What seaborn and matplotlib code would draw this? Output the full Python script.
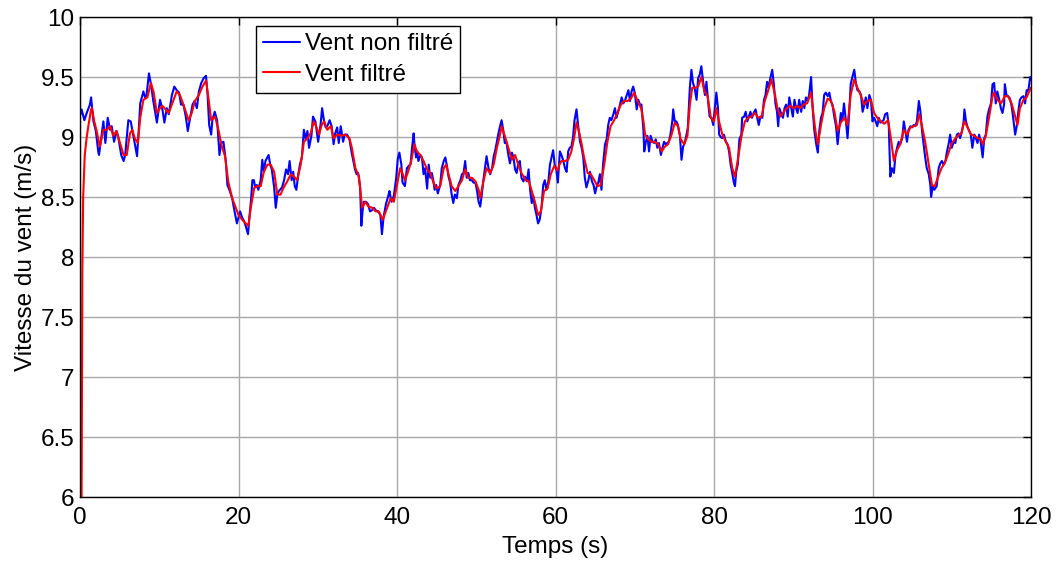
import matplotlib
matplotlib.use("Agg")
import matplotlib.pyplot as plt
import numpy as np
import pandas as pd
import seaborn as sns

# Raw (unfiltered) wind speed record: time (s) and speed (m/s)
t_brut = [
    0.0, 0.2, 0.55, 0.85, 1.25, 1.4, 1.7, 2.0, 2.3, 2.4, 2.95, 3.2, 3.5, 3.8, 4.0, 4.3, 4.6, 4.8,
    5.2, 5.5, 5.7, 6.1, 6.4, 6.7, 7.2, 7.45, 7.6, 8.0, 8.2, 8.4, 8.7, 8.95, 9.25, 9.5, 9.7, 10.1,
    10.4, 10.65, 10.95, 11.2, 11.6, 11.9, 12.2, 12.5, 12.75, 13.05, 13.35, 13.6, 13.9, 14.2, 14.45,
    14.75, 15.0, 15.3, 15.6, 15.9, 16.1, 16.3, 16.55, 16.7, 17.0, 17.3, 17.6, 17.8, 18.1, 18.4, 18.6,
    18.9, 19.2, 19.5, 19.8, 20.2, 20.45, 20.7, 20.9, 21.2, 21.4, 21.6, 21.75, 21.95, 22.1, 22.3, 22.5,
    22.8, 23.0, 23.2, 23.4, 23.8, 24.0, 24.2, 24.5, 24.7, 24.9, 25.1, 25.5, 25.75, 26.0, 26.25, 26.45,
    26.7, 26.9, 27.1, 27.3, 27.55, 27.75, 28.0, 28.25, 28.5, 28.7, 28.9, 29.2, 29.4, 29.7, 30.05,
    30.35, 30.55, 30.8, 31.0, 31.2, 31.5, 31.75, 32.0, 32.2, 32.45, 32.65, 32.9, 33.2, 33.4, 33.7,
    34.0, 34.25, 34.4, 34.7, 34.9, 35.1, 35.35, 35.5, 35.65, 35.8, 36.1, 36.35, 36.6, 36.85, 37.1,
    37.3, 37.6, 37.9, 38.1, 38.3, 38.6, 38.9, 39.05, 39.3, 39.6, 39.9, 40.1, 40.3, 40.55, 40.7, 41.0,
    41.25, 41.5, 41.7, 41.9, 42.1, 42.2, 42.4, 42.55, 42.7, 42.95, 43.15, 43.35, 43.55, 43.8, 44.0,
    44.2, 44.4, 44.6, 44.75, 44.95, 45.15, 45.45, 45.65, 45.9, 46.1, 46.3, 46.5, 46.7, 46.9, 47.1,
    47.3, 47.55, 47.75, 48.0, 48.2, 48.4, 48.6, 48.8, 49.0, 49.2, 49.45, 49.65, 49.9, 50.1, 50.3,
    50.5, 50.7, 50.9, 51.1, 51.3, 51.55, 51.75, 52.0, 52.2, 52.4, 52.6, 52.8, 53.0, 53.2, 53.4, 53.6,
    53.8, 54.05, 54.25, 54.5, 54.7, 54.9, 55.1, 55.3, 55.5, 55.7, 55.95, 56.15, 56.4, 56.6, 56.8,
    57.0, 57.2, 57.4, 57.6, 57.8, 58.0, 58.25, 58.45, 58.65, 58.85, 59.1, 59.3, 59.5, 59.7, 59.9,
    60.1, 60.3, 60.55, 60.75, 60.95, 61.2, 61.4, 61.6, 61.8, 62.0, 62.2, 62.4, 62.65, 62.85, 63.1,
    63.3, 63.5, 63.7, 63.9, 64.15, 64.35, 64.6, 64.8, 65.0, 65.2, 65.4, 65.6, 65.8, 66.0, 66.25,
    66.45, 66.65, 66.85, 67.05, 67.3, 67.5, 67.7, 67.9, 68.1, 68.35, 68.55, 68.75, 68.95, 69.2, 69.4,
    69.6, 69.8, 70.0, 70.25, 70.45, 70.65, 70.85, 71.1, 71.2, 71.4, 71.6, 71.8, 72.0, 72.25, 72.45,
    72.65, 72.85, 73.05, 73.3, 73.5, 73.7, 73.9, 74.1, 74.3, 74.5, 74.75, 74.85, 75.05, 75.25, 75.45,
    75.7, 75.9, 76.1, 76.3, 76.5, 76.7, 76.95, 77.15, 77.35, 77.55, 77.8, 78.0, 78.2, 78.4, 78.65,
    78.85, 79.05, 79.25, 79.45, 79.7, 79.9, 80.1, 80.3, 80.5, 80.65, 80.85, 81.05, 81.25, 81.5, 81.7,
    81.9, 82.1, 82.3, 82.5, 82.65, 82.8, 83.0, 83.2, 83.45, 83.55, 83.8, 84.0, 84.2, 84.4, 84.6, 84.8,
    85.0, 85.25, 85.45, 85.65, 85.85, 86.1, 86.3, 86.5, 86.7, 86.9, 87.1, 87.35, 87.55, 87.75, 87.95,
    88.1, 88.25, 88.5, 88.7, 88.9, 89.1, 89.3, 89.5, 89.75, 89.95, 90.15, 90.35, 90.55, 90.75, 91.0,
    91.2, 91.4, 91.6, 91.8, 92.0, 92.25, 92.45, 92.65, 92.9, 93.1, 93.3, 93.5, 93.7, 93.9, 94.1,
    94.35, 94.55, 94.75, 94.95, 95.2, 95.4, 95.6, 95.8, 96.0, 96.2, 96.4, 96.65, 96.85, 97.05, 97.25,
    97.5, 97.7, 97.9, 98.1, 98.35, 98.55, 98.75, 98.95, 99.15, 99.35, 99.6, 99.8, 100.0, 100.2,
    100.4, 100.6, 100.8, 101.0, 101.2, 101.4, 101.6, 101.85, 102.05, 102.25, 102.45, 102.7, 102.9,
    103.1, 103.3, 103.5, 103.75, 103.95, 104.15, 104.35, 104.55, 104.8, 105.0, 105.2, 105.4, 105.6,
    105.85, 106.05, 106.25, 106.45, 106.65, 106.85, 107.1, 107.3, 107.4, 107.6, 107.8, 108.0, 108.1,
    108.35, 108.55, 108.75, 108.95, 109.2, 109.4, 109.6, 109.8, 110.0, 110.25, 110.45, 110.65,
    110.85, 111.05, 111.3, 111.5, 111.6, 111.8, 112.0, 112.2, 112.4, 112.6, 112.85, 113.05, 113.25,
    113.45, 113.65, 113.9, 114.1, 114.3, 114.5, 114.7, 114.95, 115.15, 115.35, 115.55, 115.75, 116.0,
    116.2, 116.4, 116.6, 116.7, 116.9, 117.1, 117.35, 117.55, 117.75, 118.0, 118.2, 118.4, 118.6,
    118.8, 119.05, 119.25, 119.45, 119.65, 119.9, 120.0,
]
v_brut = [
    9.18, 9.23, 9.14, 9.20, 9.27, 9.33, 9.13, 9.05, 8.88, 8.85, 9.13, 8.95, 9.16, 9.06, 9.09, 8.96, 9.05, 9.01,
    8.85, 8.80, 8.85, 9.14, 9.13, 9.02, 8.84, 9.10, 9.28, 9.38, 9.33, 9.35, 9.53, 9.44, 9.30, 9.20, 9.12, 9.31,
    9.23, 9.12, 9.24, 9.19, 9.35, 9.42, 9.39, 9.37, 9.27, 9.27, 9.17, 9.05, 9.16, 9.27, 9.30,
    9.24, 9.38, 9.45, 9.49, 9.51, 9.35, 9.10, 9.02, 9.14, 9.21, 9.14, 8.85, 8.95, 8.96, 8.80, 8.60,
    8.55, 8.49, 8.38, 8.28, 8.38, 8.33, 8.30, 8.26, 8.19, 8.35, 8.49, 8.64, 8.64, 8.58, 8.60, 8.56,
    8.64, 8.81, 8.71, 8.80, 8.85, 8.77, 8.73, 8.58, 8.41, 8.52, 8.55, 8.58, 8.64, 8.73, 8.69, 8.80,
    8.64, 8.71, 8.59, 8.56, 8.69, 8.77, 8.83, 9.06, 8.98, 9.05, 8.91, 9.01, 9.17, 9.13, 8.96,
    9.10, 9.24, 9.13, 9.08, 9.09, 9.14, 9.09, 8.94, 9.03, 9.08, 8.95, 9.09, 8.96, 9.02, 9.02,
    8.98, 8.88, 8.83, 8.73, 8.69, 8.70, 8.58, 8.26, 8.38, 8.46, 8.46, 8.44, 8.38, 8.39, 8.41,
    8.39, 8.38, 8.35, 8.19, 8.33, 8.44, 8.51, 8.55, 8.46, 8.51, 8.66, 8.82, 8.87, 8.77, 8.62, 8.59,
    8.74, 8.76, 8.77, 8.91, 9.03, 8.94, 8.83, 8.88, 8.80, 8.85, 8.83, 8.69, 8.74, 8.57, 8.77,
    8.66, 8.70, 8.63, 8.56, 8.60, 8.53, 8.60, 8.74, 8.80, 8.83, 8.76, 8.67, 8.62, 8.52, 8.45,
    8.52, 8.49, 8.60, 8.64, 8.69, 8.70, 8.80, 8.66, 8.70, 8.64, 8.64, 8.62, 8.62, 8.55, 8.46,
    8.42, 8.52, 8.64, 8.74, 8.84, 8.74, 8.69, 8.74, 8.84, 8.89, 8.96, 9.03, 9.09, 9.14, 9.06, 8.95,
    8.96, 8.85, 8.78, 8.87, 8.83, 8.73, 8.70, 8.78, 8.80, 8.66, 8.63, 8.67, 8.63, 8.73, 8.56,
    8.45, 8.51, 8.41, 8.35, 8.28, 8.31, 8.42, 8.60, 8.64, 8.56, 8.63, 8.77, 8.83, 8.89, 8.77,
    8.73, 8.62, 8.88, 8.85, 8.81, 8.74, 8.71, 8.88, 8.91, 8.92, 8.99, 9.14, 9.23, 9.10, 8.96,
    8.91, 8.83, 8.66, 8.58, 8.64, 8.71, 8.63, 8.60, 8.53, 8.59, 8.62, 8.69, 8.56, 8.77, 8.94,
    8.98, 9.10, 9.16, 9.14, 9.19, 9.24, 9.16, 9.21, 9.26, 9.33, 9.28, 9.30, 9.34, 9.39, 9.30,
    9.38, 9.42, 9.37, 9.23, 9.31, 9.27, 9.27, 9.05, 8.88, 8.96, 9.01, 8.88, 9.01, 8.96, 8.95,
    8.98, 8.91, 8.95, 8.85, 8.91, 8.96, 8.94, 8.95, 8.96, 9.02, 9.14, 9.23, 9.13, 9.13, 9.10,
    9.01, 8.81, 8.92, 8.95, 9.01, 9.08, 9.41, 9.56, 9.45, 9.41, 9.31, 9.49, 9.52, 9.59, 9.45,
    9.35, 9.46, 9.30, 9.17, 9.16, 9.10, 9.24, 9.37, 9.24, 9.02, 9.00, 8.99, 9.02, 8.96, 8.94,
    8.88, 8.77, 8.70, 8.62, 8.59, 8.71, 8.77, 8.98, 9.02, 9.16, 9.17, 9.21, 9.13, 9.17, 9.21, 9.16,
    9.20, 9.23, 9.16, 9.10, 9.17, 9.16, 9.31, 9.35, 9.46, 9.41, 9.49, 9.56, 9.44, 9.28, 9.21,
    9.09, 9.24, 9.19, 9.16, 9.24, 9.27, 9.17, 9.33, 9.24, 9.17, 9.31, 9.24, 9.20, 9.31, 9.21,
    9.30, 9.24, 9.33, 9.30, 9.35, 9.50, 9.24, 9.06, 8.94, 8.87, 9.06, 9.16, 9.20, 9.35, 9.37,
    9.34, 9.37, 9.30, 9.27, 9.16, 9.09, 8.94, 9.07, 9.20, 9.14, 9.28, 9.13, 8.99, 9.19, 9.44,
    9.51, 9.56, 9.45, 9.39, 9.38, 9.35, 9.21, 9.26, 9.33, 9.24, 9.35, 9.31, 9.13, 9.16,
    9.13, 9.09, 9.16, 9.12, 9.13, 9.14, 9.19, 9.20, 9.10, 8.67, 8.74, 8.70, 8.85,
    8.91, 8.96, 8.94, 8.99, 9.13, 9.05, 8.96, 9.06, 9.09, 9.08, 9.10, 9.09, 9.13,
    9.30, 9.21, 9.05, 8.94, 8.83, 8.74, 8.69, 8.60, 8.50, 8.59, 8.56, 8.58, 8.59,
    8.74, 8.78, 8.80, 8.77, 8.80, 8.88, 8.94, 9.02, 8.91, 8.96, 8.95, 9.02,
    9.03, 8.99, 9.05, 9.13, 9.23, 9.13, 9.08, 9.05, 9.02, 8.91, 9.02, 8.99, 8.95,
    9.02, 8.96, 8.83, 8.99, 9.02, 9.17, 9.23, 9.28, 9.44, 9.45, 9.28, 9.38, 9.31,
    9.24, 9.20, 9.27, 9.44, 9.35, 9.34, 9.32, 9.26, 9.16, 9.02, 9.09, 9.21, 9.31,
    9.33, 9.34, 9.28, 9.39, 9.38, 9.50, 9.48,
]

# Filtered wind speed: time (s) and speed (m/s)
t_filtre = [
    0.2, 0.25, 0.3, 0.4, 0.6, 0.85, 1.05, 1.4, 1.5, 1.8, 2.1, 2.5, 2.95, 3.4, 3.8, 4.2, 4.6, 5.05,
    5.5, 5.9, 6.3, 6.6, 6.9, 7.3, 7.6, 8.0, 8.5, 8.95, 9.3, 9.7, 10.1, 10.4, 10.8, 11.2, 11.65, 12.2,
    12.6, 13.05, 13.7, 14.1, 14.5, 15.0, 15.45, 15.9, 16.2, 16.55, 17.05, 17.5, 17.9, 18.3, 18.7,
    19.2, 19.6, 20.0, 20.6, 21.25, 21.55, 22.0, 22.4, 22.8, 23.2, 23.65, 24.05, 24.5, 24.9, 25.3,
    25.7, 26.15, 26.6, 27.0, 27.4, 27.85, 28.25, 28.7, 29.1, 29.5, 29.8, 30.15, 30.5, 30.8, 31.2,
    31.65, 32.0, 32.45, 33.0, 33.5, 34.0, 34.3, 34.75, 35.2, 35.6, 36.0, 36.4, 36.9, 37.3, 37.7,
    38.2, 38.75, 39.2, 39.6, 40.0, 40.4, 40.8, 41.0, 41.4, 41.8, 42.2, 42.5, 42.95, 43.35, 43.8,
    44.2, 44.6, 45.0, 45.45, 45.9, 46.2, 46.5, 46.9, 47.35, 47.75, 48.2, 48.6, 49.0, 49.45, 49.9,
    50.3, 50.5, 50.9, 51.3, 51.75, 52.2, 52.6, 53.0, 53.2, 53.6, 54.05, 54.5, 54.9, 55.3, 55.7,
    56.25, 56.65, 57.0, 57.4, 57.8, 58.15, 58.55, 59.0, 59.4, 59.85, 60.25, 60.5, 60.75, 61.2, 61.6,
    62.0, 62.35, 62.65, 62.95, 63.3, 63.6, 64.05, 64.45, 64.9, 65.3, 65.7, 66.15, 66.55, 66.95,
    67.4, 67.8, 68.25, 68.65, 69.1, 69.5, 69.95, 70.35, 70.8, 71.1, 71.3, 71.7, 72.1, 72.55, 72.95,
    73.4, 73.8, 74.2, 74.65, 75.05, 75.45, 75.8, 76.25, 76.65, 76.95, 77.25, 77.6, 78.0, 78.4,
    78.8, 79.2, 79.6, 80.0, 80.3, 80.6, 81.05, 81.5, 81.9, 82.3, 82.65, 83.1, 83.5, 83.9, 84.3,
    84.7, 85.15, 85.6, 86.0, 86.4, 86.8, 87.25, 87.7, 88.0, 88.4, 88.8, 89.2, 89.65, 90.05, 90.5,
    90.9, 91.3, 91.75, 92.25, 92.6, 92.8, 93.1, 93.5, 93.9, 94.35, 94.75, 95.2, 95.6, 96.0, 96.45,
    96.85, 97.25, 97.7, 98.1, 98.5, 98.95, 99.35, 99.8, 100.2, 100.6, 101.05, 101.5, 101.95, 102.25,
    102.7, 103.1, 103.5, 103.95, 104.35, 104.8, 105.2, 105.6, 105.9, 106.25, 106.65, 107.1, 107.5,
    107.85, 108.25, 108.7, 109.1, 109.5, 109.95, 110.35, 110.75, 111.2, 111.6, 112.0, 112.45,
    112.85, 113.3, 113.7, 113.9, 114.3, 114.7, 115.15, 115.35, 115.75, 116.2, 116.7, 117.1, 117.55,
    118.0, 118.3, 118.6, 119.05, 119.45, 119.9, 120.0,
]
v_filtre = [
    6.00, 7.00, 7.90, 8.50, 8.85, 9.00, 9.09, 9.23, 9.24, 9.13, 9.05, 8.92, 9.06, 9.06, 9.09, 9.01, 9.05, 8.95,
    8.85, 8.85, 9.03, 9.06, 8.99, 8.95, 9.16, 9.31, 9.33, 9.45, 9.37, 9.20, 9.24, 9.26, 9.23, 9.20, 9.28, 9.38,
    9.35, 9.27, 9.14, 9.20, 9.30, 9.35, 9.42, 9.47, 9.33, 9.14, 9.17, 9.05, 8.92, 8.84, 8.63,
    8.49, 8.42, 8.35, 8.30, 8.26, 8.41, 8.58, 8.59, 8.59, 8.71, 8.77, 8.77, 8.71, 8.52, 8.52,
    8.58, 8.63, 8.69, 8.67, 8.64, 8.77, 8.96, 8.99, 9.03, 9.13, 9.09, 9.02, 9.10, 9.13, 9.06,
    9.09, 8.99, 9.02, 9.01, 9.02, 8.99, 8.91, 8.74, 8.67, 8.41, 8.46, 8.42, 8.41, 8.38, 8.38,
    8.31, 8.41, 8.49, 8.46, 8.60, 8.74, 8.68, 8.64, 8.71, 8.80, 8.94, 8.88, 8.85, 8.80, 8.73,
    8.70, 8.62, 8.57, 8.59, 8.74, 8.77, 8.69, 8.59, 8.55, 8.59, 8.64, 8.73, 8.66, 8.66, 8.63,
    8.56, 8.49, 8.63, 8.74, 8.70, 8.77, 8.91, 9.02, 9.09, 9.01, 8.91, 8.81, 8.85, 8.77, 8.70,
    8.64, 8.63, 8.55, 8.46, 8.35, 8.38, 8.55, 8.57, 8.69, 8.76, 8.72, 8.77, 8.80, 8.80, 8.81,
    8.88, 8.99, 9.12, 9.05, 8.94, 8.83, 8.70, 8.69, 8.64, 8.59, 8.60, 8.77, 8.96, 9.09,
    9.14, 9.20, 9.27, 9.30, 9.30, 9.32, 9.37, 9.30, 9.24, 9.13, 9.02, 8.98, 8.96, 8.96, 8.94,
    8.88, 8.92, 8.94, 9.02, 9.12, 9.09, 8.98, 8.94, 9.01, 9.27, 9.41, 9.41, 9.42, 9.50,
    9.38, 9.34, 9.16, 9.13, 9.24, 9.14, 9.02, 8.96, 8.91, 8.74, 8.67, 8.85, 9.02, 9.13, 9.16,
    9.17, 9.20, 9.16, 9.17, 9.30, 9.38, 9.48, 9.35, 9.24, 9.17, 9.21, 9.24, 9.26, 9.24, 9.26,
    9.24, 9.27, 9.28, 9.37, 9.16, 9.05, 8.94, 9.10, 9.24, 9.32, 9.30, 9.21, 9.05, 9.12, 9.16,
    9.10, 9.35, 9.48, 9.41, 9.35, 9.27, 9.30, 9.31, 9.20, 9.16, 9.13, 9.11, 9.14, 9.02,
    8.80, 8.89, 8.94, 9.06, 9.02, 9.08, 9.09, 9.10, 9.19, 9.09, 8.96, 8.77, 8.60,
    8.59, 8.66, 8.74, 8.78, 8.85, 8.94, 8.98, 9.01, 9.03, 9.13, 9.08, 9.02,
    9.01, 8.99, 8.98, 8.94, 9.01, 9.16, 9.34, 9.37, 9.31, 9.28, 9.34, 9.34, 9.28,
    9.17, 9.10, 9.24, 9.31, 9.33, 9.40, 9.41,
]

labels = ["Vent non filtré", "Vent filtré"]
couleurs = ["#0000ff", "#ff0000"]

sns.set_theme(style="white")
plt.rcParams["font.family"] = ["Liberation Sans", "DejaVu Sans"]
plt.rcParams["text.color"] = "black"
plt.rcParams["axes.labelcolor"] = "black"

df = pd.concat([
    pd.DataFrame({"t": t_brut, "v": v_brut, "serie": labels[0]}),
    pd.DataFrame({"t": t_filtre, "v": v_filtre, "serie": labels[1]}),
], ignore_index=True)

fig = plt.figure(figsize=(10.59, 5.61), dpi=100)
ax = fig.add_axes([80 / 1059, 1 - 497 / 561, 951 / 1059, 480 / 561])

sns.lineplot(data=df, x="t", y="v", hue="serie", hue_order=labels,
             palette=couleurs, sort=False, estimator=None, linewidth=1.5, ax=ax)

ax.set_xlim(0, 120)
ax.set_ylim(6, 10)
ax.set_xticks(np.arange(0, 121, 20))
ax.set_yticks(np.arange(6, 10.01, 0.5))
ax.set_yticklabels(["6", "6.5", "7", "7.5", "8", "8.5", "9", "9.5", "10"])

ax.grid(True, color="#a8a8a8", linewidth=1.0, linestyle="-")
ax.set_axisbelow(True)
for s in ax.spines.values():
    s.set_visible(True)
    s.set_color("black")
    s.set_linewidth(1.0)

ax.tick_params(direction="in", length=6, width=1.0, colors="black",
               top=True, right=True, labelsize=17.5)
ax.tick_params(axis="x", pad=7)
ax.tick_params(axis="y", pad=4)

ax.set_xlabel("Temps (s)", fontsize=17.5, labelpad=5, color="black")
ax.set_ylabel("Vitesse du vent (m/s)", fontsize=17.5, labelpad=3, color="black")

leg = ax.legend(loc="upper left", bbox_to_anchor=(0.185, 0.981), borderaxespad=0,
                fontsize=17.5, frameon=True, fancybox=False, framealpha=1,
                edgecolor="black", handlelength=1.5, handletextpad=0.2,
                labelspacing=0.35, borderpad=0.3, labelcolor="black")
leg.get_frame().set_linewidth(1.0)
for line in leg.get_lines():
    line.set_linewidth(1.5)

fig.savefig("out.png", dpi=100, facecolor="white")
